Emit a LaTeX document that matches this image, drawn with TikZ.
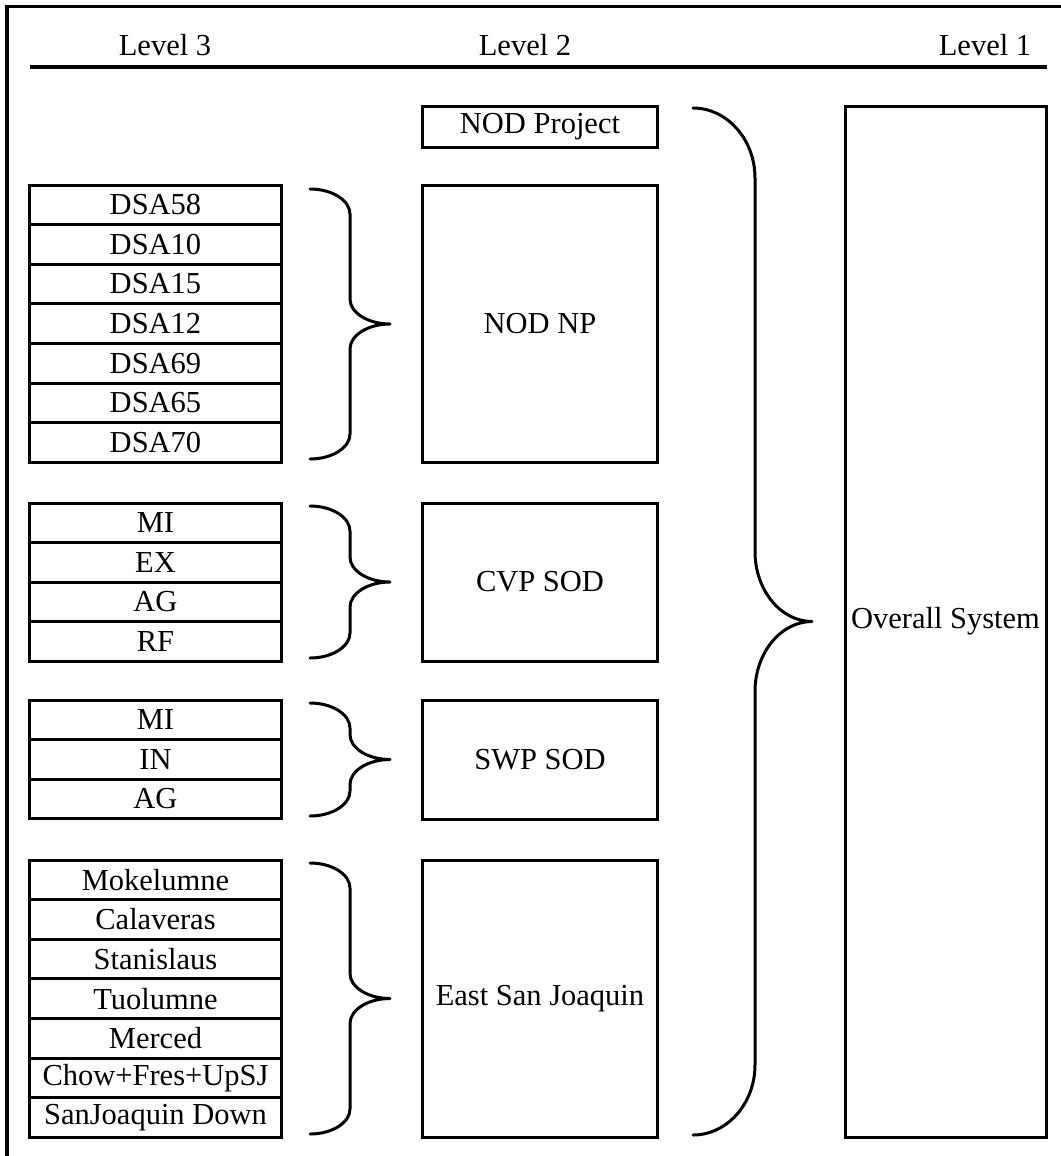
\documentclass[tikz,border=0pt]{standalone}
\usepackage{fontspec}
\setmainfont{Liberation Serif}
\usepackage{tikz}
\newcommand{\lvlfont}{\fontsize{12.2}{14}\selectfont}
\tikzset{
  lvlframe/.style={line width=1.2pt, draw=black},
  lvlrule/.style={line width=1.4pt, draw=black},
  lvlhead/.style={font=\lvlfont, inner sep=0pt},
  lvlrow/.style={draw=black, line width=1.2pt, font=\lvlfont, inner sep=0pt,
    minimum width=100.4pt, minimum height=15.84pt},
  lvlbox/.style={draw=black, line width=1.2pt, font=\lvlfont, inner sep=0pt,
    minimum width=93.6pt},
  lvltop/.style={draw=black, line width=1.2pt, font=\lvlfont, inner sep=0pt,
    minimum width=80.4pt, minimum height=412.4pt},
  lvlbrace/.style={line width=1.2pt, draw=black, line cap=round, line join=round},
}
% curly brace: ends at x #1, spine at x #2, tip at x #3, from y #4 to y #5, hook size #6
\newcommand{\lvlbrace}[6]{%
  \pgfmathsetmacro{\lvlmid}{(#4+#5)/2}
  \draw[lvlbrace] (#1,#4) .. controls ({0.45*#1+0.55*#2},#4) and (#2,{#4+0.45*#6}) .. (#2,{#4+#6})
    -- (#2,{\lvlmid-#6}) .. controls (#2,{\lvlmid-0.45*#6}) and ({0.55*#2+0.45*#3},\lvlmid) .. (#3,\lvlmid)
    .. controls ({0.55*#2+0.45*#3},\lvlmid) and (#2,{\lvlmid+0.45*#6}) .. (#2,{\lvlmid+#6})
    -- (#2,{#5-#6}) .. controls (#2,{#5-0.45*#6}) and ({0.45*#1+0.55*#2},#5) .. (#1,#5);
}

\begin{document}
\begin{tikzpicture}[x=0.4pt, y=-0.4pt]
\useasboundingbox (0,0) rectangle (1061,1156);
\draw[lvlframe] (7,1160) -- (7,6) -- (1065,6);

% headings
\node[lvlhead] (head3) at (165,45) {Level 3};
\node[lvlhead] (head2) at (525,45) {Level 2};
\node[lvlhead] (head1) at (985,45) {Level 1};
\draw[lvlrule] (30,67) -- (1047,67);

% level 3 stacks
\foreach \name [count=\i] in {DSA58,DSA10,DSA15,DSA12,DSA69,DSA65,DSA70}
  \node[lvlrow] (dsa\i) at (155.5,{185+39.6*(\i-0.5)}) {\name};
\foreach \name [count=\i] in {MI,EX,AG,RF}
  \node[lvlrow] (cvp\i) at (155.5,{503+39.6*(\i-0.5)}) {\name};
\foreach \name [count=\i] in {MI,IN,AG}
  \node[lvlrow] (swp\i) at (155.5,{700+39.6*(\i-0.5)}) {\name};
\foreach \name [count=\i] in {Mokelumne,Calaveras,Stanislaus,Tuolumne,Merced,Chow+Fres+UpSJ,SanJoaquin Down}
  \node[lvlrow] (esj\i) at (155.5,{860+39.6*(\i-0.5)}) {\name};

% level 2 boxes
\node[lvlbox, minimum height=16.4pt] (nodproj) at (540,126.5) {NOD Project};
\node[lvlbox, minimum height=110.8pt] (nodnp) at (540,323.5) {NOD NP};
\node[lvlbox, minimum height=63.2pt] (cvpsod) at (540,582) {CVP SOD};
\node[lvlbox, minimum height=47.6pt] (swpsod) at (540,759.5) {SWP SOD};
\node[lvlbox, minimum height=110.8pt] (eastsj) at (540,998.5) {East San Joaquin};

% level 1
\node[lvltop] (overall) at (945.5,621.5) {Overall System};

% braces
\lvlbrace{310}{350}{390}{189}{459}{25}
\lvlbrace{310}{350}{390}{506}{658}{25}
\lvlbrace{310}{350}{390}{703}{816}{25}
\lvlbrace{310}{350}{390}{863}{1134}{25}
\lvlbrace{693}{755}{812}{108}{1135}{70}
\end{tikzpicture}
\end{document}
